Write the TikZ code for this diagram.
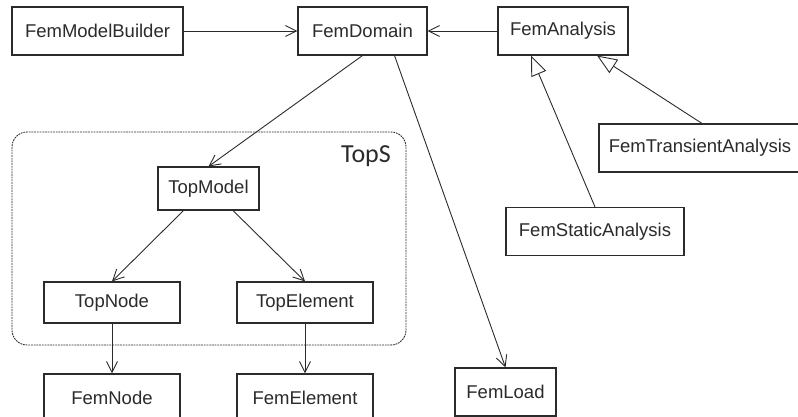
\documentclass[tikz,border=0pt]{standalone}
\usepackage{fontspec}
\setmainfont{Liberation Sans}
\newfontfamily\pkgfont{Carlito}
\usetikzlibrary{arrows.meta}

\definecolor{inkc}{HTML}{2B2B2B}

\tikzset{
  cls/.style={draw=inkc, line width=1.1pt, fill=white, rectangle, inner sep=0pt,
    minimum height=48pt, text=inkc, font=\fontsize{18.5}{20}\selectfont},
  assoc/.style={draw=inkc, line width=0.9pt, -{Straight Barb[length=11pt,width=11pt,line width=0.9pt]}},
  inherit/.style={draw=inkc, line width=0.9pt, -{Triangle[open,length=20pt,width=16pt,line width=0.9pt,fill=white]}},
  pkgbox/.style={draw=inkc, line width=0.9pt, dash pattern=on 1.8pt off 0.9pt, rounded corners=15pt}
}

\begin{document}
\begin{tikzpicture}[x=1pt, y=-1pt]
  \useasboundingbox (0,0) rectangle (798,417);

  % package frame for TopS
  \draw[pkgbox] (12,132) rectangle (406,345);
  \node[text=inkc, font=\pkgfont\fontsize{26}{28}\selectfont] (tops) at (366,156) {TopS};

  % classes
  \node[cls, minimum width=171pt] (mb)  at (97.5,31)  {FemModelBuilder};
  \node[cls, minimum width=129pt] (dom) at (362.5,31) {FemDomain};
  \node[cls, minimum width=130pt] (ana) at (563,31)   {FemAnalysis};
  \node[cls, minimum width=202pt] (tra) at (700,148)  {FemTransientAnalysis};
  \node[cls, minimum width=178pt] (sta) at (595,231.5) {FemStaticAnalysis};
  \node[cls, minimum width=101pt, minimum height=43pt] (tm) at (208.5,188.5) {TopModel};
  \node[cls, minimum width=136pt, minimum height=41pt] (tn) at (112,302.5) {TopNode};
  \node[cls, minimum width=136pt, minimum height=41pt] (te) at (305,302.5) {TopElement};
  \node[cls, minimum width=136pt] (fn) at (112,398) {FemNode};
  \node[cls, minimum width=136pt] (fe) at (305,398) {FemElement};
  \node[cls, minimum width=101pt] (fl) at (505.5,392) {FemLoad};

  % associations
  \draw[assoc] (mb.east) -- (dom.west);
  \draw[assoc] (ana.west) -- (dom.east);
  \draw[assoc] (dom.south) -- (tm.north);
  \draw[assoc] ([xshift=32pt]dom.south) -- (fl.north);
  \draw[assoc] ([xshift=-25pt]tm.south) -- (tn.north);
  \draw[assoc] ([xshift=24.5pt]tm.south) -- (te.north);
  \draw[assoc] (tn.south) -- (fn.north);
  \draw[assoc] (te.south) -- (fe.north);

  % generalisations
  \draw[inherit] (sta.north) -- ([xshift=-32pt]ana.south);
  \draw[inherit] ([xshift=2pt]tra.north) -- ([xshift=34pt]ana.south);
\end{tikzpicture}
\end{document}
